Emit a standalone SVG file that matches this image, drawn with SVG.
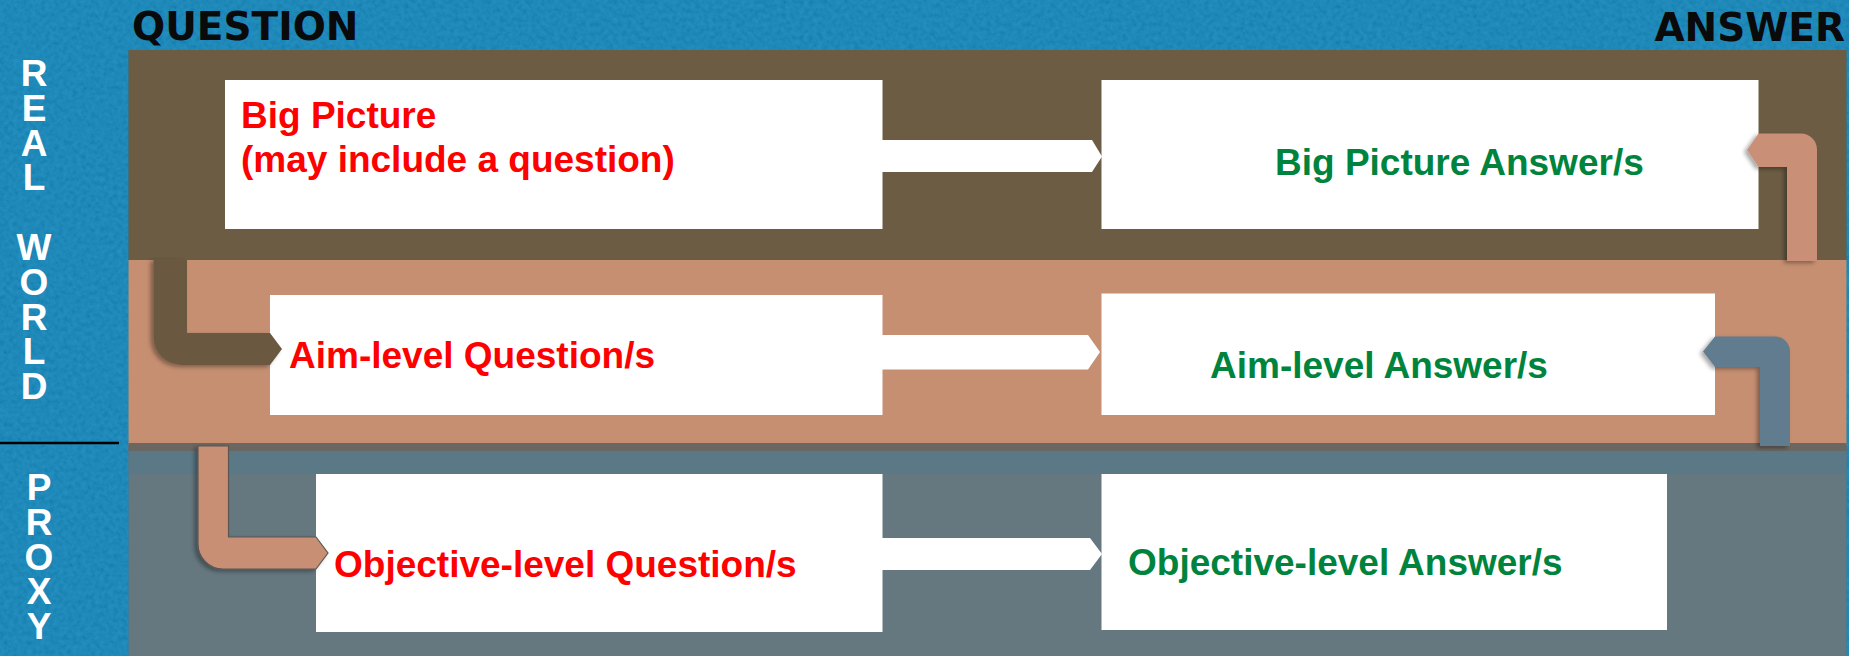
<svg xmlns="http://www.w3.org/2000/svg" width="1849" height="656" viewBox="0 0 1849 656">
  <defs>
    <style>
      .hdr { font-family: "DejaVu Sans", sans-serif; font-weight: bold; font-size: 39px; fill: #0a0a0a; }
      .side { font-family: "Liberation Sans", Arial, sans-serif; font-weight: bold; font-size: 37px; fill: #ffffff; writing-mode: vertical-rl; text-orientation: upright; letter-spacing: -6.2px; }
      .q { font-family: "Liberation Sans", Arial, sans-serif; font-weight: bold; font-size: 37px; fill: #ff0000; }
      .a { font-family: "Liberation Sans", Arial, sans-serif; font-weight: bold; font-size: 37px; fill: #00843d; }
      .box { fill: #ffffff; }
      .flow { fill: #ffffff; }
    </style>
    <filter id="grain" x="0" y="0" width="100%" height="100%">
      <feTurbulence type="fractalNoise" baseFrequency="0.22" numOctaves="3" seed="7" result="n"/>
      <feColorMatrix in="n" type="matrix" values="1 0 0 0 0  1 0 0 0 0  1 0 0 0 0  0 0 0 0 0.13"/>
    </filter>
    <filter id="shade" x="-20%" y="-20%" width="140%" height="140%">
      <feDropShadow dx="-3" dy="2" stdDeviation="2" flood-color="#000000" flood-opacity="0.35"/>
    </filter>
    <clipPath id="blueArea">
      <rect x="0" y="0" width="1849" height="50"/>
      <rect x="0" y="0" width="128.5" height="656"/>
      <rect x="1846.5" y="0" width="3" height="656"/>
    </clipPath>
  </defs>

  <!-- blue frame with a fine grain -->
  <rect x="0" y="0" width="1849" height="656" fill="#0781b8"/>
  <rect x="0" y="0" width="1849" height="656" filter="url(#grain)" clip-path="url(#blueArea)"/>

  <!-- three horizontal bands -->
  <g id="bands">
    <rect x="128.5" y="50" width="1718" height="210" fill="#6b5c43"/>
    <rect x="128.5" y="260" width="1718" height="185" fill="#c68f71"/>
    <rect x="128.5" y="445" width="1718" height="211" fill="#65777f"/>
    <rect x="128.5" y="443" width="1718" height="8" fill="#6a6661"/>
    <rect x="128.5" y="451" width="1718" height="23" fill="#5b7886"/>
  </g>

  <!-- column headings -->
  <g id="headings">
    <text class="hdr" x="132" y="40">QUESTION</text>
    <text class="hdr" x="1845" y="41" text-anchor="end">ANSWER</text>
  </g>

  <!-- row labels, set upright in a vertical column -->
  <g id="row-real-world">
    <text class="side" x="34" y="53">REAL WORLD</text>
  </g>
  <line x1="0" y1="443" x2="119" y2="443" stroke="#000000" stroke-width="2.5"/>
  <g id="row-proxy">
    <text class="side" x="39" y="467">PROXY</text>
  </g>

  <!-- nodes -->
  <g id="big-picture">
    <rect class="box" x="225" y="80" width="657.5" height="149"/>
    <text class="q" x="241" y="128">Big Picture</text>
    <text class="q" x="241" y="171.5">(may include a question)</text>
  </g>
  <g id="big-picture-answer">
    <rect class="box" x="1101.5" y="80" width="657" height="149"/>
    <text class="a" x="1275" y="175">Big Picture Answer/s</text>
  </g>
  <g id="aim-question">
    <rect class="box" x="270" y="295" width="612.5" height="120"/>
    <text class="q" x="289" y="368">Aim-level Question/s</text>
  </g>
  <g id="aim-answer">
    <rect class="box" x="1101.5" y="293.5" width="613.5" height="121.5"/>
    <text class="a" x="1210" y="378">Aim-level Answer/s</text>
  </g>
  <g id="objective-question">
    <rect class="box" x="316" y="474" width="566.5" height="158"/>
    <text class="q" x="334" y="577">Objective-level Question/s</text>
  </g>
  <g id="objective-answer">
    <rect class="box" x="1101.5" y="474" width="565.5" height="156"/>
    <text class="a" x="1128" y="575">Objective-level Answer/s</text>
  </g>

  <!-- connectors -->
  <g id="connectors">
    <!-- question to answer, one per row -->
    <path class="flow" d="M880,140 L1092,140 L1102,156.5 L1092,172 L880,172 Z"/>
    <path class="flow" d="M880,335 L1088,335 L1100,352 L1088,369.5 L880,369.5 Z"/>
    <path class="flow" d="M880,538 L1090,538 L1102,554 L1090,570 L880,570 Z"/>

    <!-- big picture down to aim-level question -->
    <path filter="url(#shade)" fill="#6a5940" d="M153.5,259 L187,259 L187,333 L270,333 L282,349 L270,365 L181.5,365 A28,28 0 0 1 153.5,337 Z"/>
    <!-- aim-level question down to objective-level question -->
    <path filter="url(#shade)" fill="#c98f74" stroke="#5b5752" stroke-width="1.2" d="M198,446 L228.5,446 L228.5,537 L316,537 L328,553 L316,569 L223,569 A25,25 0 0 1 198,544 Z"/>
    <!-- objective-level answer up to aim-level answer -->
    <path filter="url(#shade)" fill="#607b8e" d="M1790,446 L1760,446 L1760,367 L1715,367 L1703,351.5 L1715,336.5 L1775,336.5 A15,15 0 0 1 1790,351.5 Z"/>
    <!-- aim-level answer up to big picture answer -->
    <path filter="url(#shade)" fill="#c99077" d="M1817,261 L1787,261 L1787,167 L1758.5,167 L1747,150 L1758.5,133.5 L1801,133.5 A16,16 0 0 1 1817,149.5 Z"/>
  </g>
</svg>
